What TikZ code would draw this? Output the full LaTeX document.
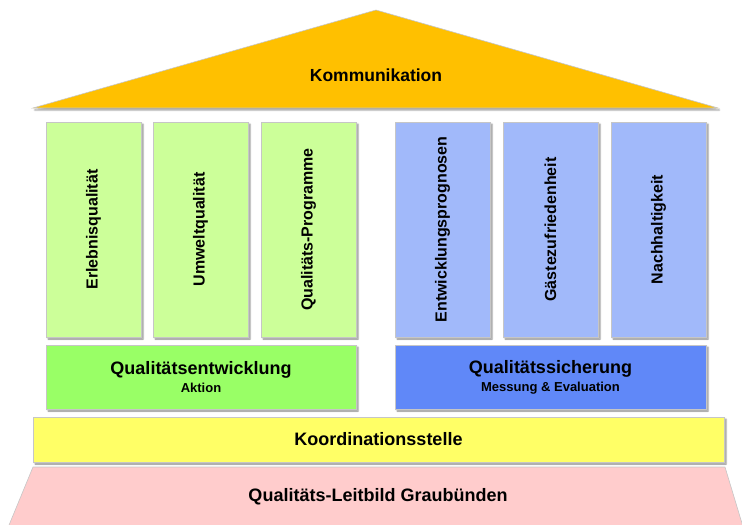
\documentclass[tikz,border=0pt]{standalone}
\usepackage{fontspec}
\setmainfont{Liberation Sans}
\usepackage{graphicx}
\usetikzlibrary{shadows.blur}
\definecolor{roofc}{HTML}{FFC000}
\definecolor{greenl}{HTML}{CCFF99}
\definecolor{greend}{HTML}{99FF66}
\definecolor{bluel}{HTML}{A1B9FA}
\definecolor{blued}{HTML}{6088F8}
\definecolor{yellowc}{HTML}{FFFF66}
\definecolor{pinkc}{HTML}{FFCCCC}
\tikzset{
  shade box/.style={draw=gray!45, line width=0.6pt, inner sep=0pt,
    blur shadow={shadow xshift=2pt, shadow yshift=-2pt, shadow blur steps=4, shadow blur radius=1.5pt, shadow opacity=45}},
  pillar/.style={shade box, minimum width=95pt, minimum height=215pt, font=\fontsize{16}{18}\selectfont\bfseries},
  bar/.style={shade box, minimum height=64pt, align=center, font=\fontsize{18}{19}\selectfont\bfseries},
  label text/.style={font=\fontsize{18}{20}\selectfont\bfseries},
}
\begin{document}
\begin{tikzpicture}[x=1pt, y=1pt]
\useasboundingbox (0,0) rectangle (742,-525);
\fill[pinkc, draw=gray!45, line width=0.6pt] (33,-467) -- (725,-467) -- (744,-530) -- (7,-530) -- cycle;
\node[label text] (leitbild) at (378,-497){Qualitäts-Leitbild Graubünden};
\node[shade box, fill=yellowc, minimum width=691pt, minimum height=45pt] (koord) at (378.5,-439.5){};
\node[label text] (koordt) at (koord.center){Koordinationsstelle};
\node[bar, fill=greend, minimum width=310pt] (qe) at (201,-377){Qualitätsentwicklung\\[-1pt]{\fontsize{13}{15}\selectfont Aktion}};
\node[bar, fill=blued, minimum width=311pt] (qs) at (550.5,-377){Qualitätssicherung\\[-1pt]{\fontsize{13}{15}\selectfont Messung \& Evaluation}};
\node[pillar, fill=greenl] (qe1) at (93.5,-229.5){\rotatebox{90}{Erlebnisqualität}};
\node[pillar, fill=greenl] (qe2) at (200.5,-229.5){\rotatebox{90}{Umweltqualität}};
\node[pillar, fill=greenl] (qe3) at (308.5,-229.5){\rotatebox{90}{Qualitäts-Programme}};
\node[pillar, fill=bluel] (qs1) at (442.5,-229.5){\rotatebox{90}{Entwicklungsprognosen}};
\node[pillar, fill=bluel] (qs2) at (550.5,-229.5){\rotatebox{90}{Gästezufriedenheit}};
\node[pillar, fill=bluel] (qs3) at (658.5,-229.5){\rotatebox{90}{Nachhaltigkeit}};
\fill[roofc, draw=gray!45, line width=0.6pt, blur shadow={shadow xshift=1.5pt, shadow yshift=-2pt, shadow blur steps=4, shadow blur radius=1.5pt, shadow opacity=40}] (33,-108) -- (376,-10) -- (718,-108) -- cycle;
\node[font=\fontsize{17.5}{20}\selectfont\bfseries] (komm) at (376,-75){Kommunikation};
\end{tikzpicture}
\end{document}
